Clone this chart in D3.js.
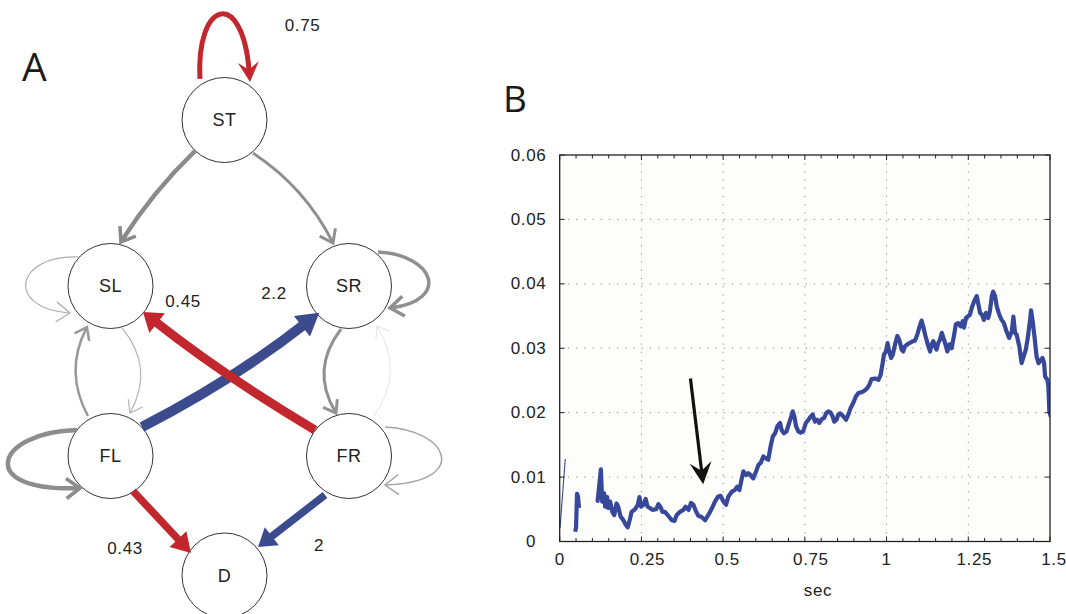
<!DOCTYPE html>
<html><head><meta charset="utf-8">
<script src="https://cdn.jsdelivr.net/npm/d3@7"></script>
<style>html,body{margin:0;padding:0;background:#fff;} svg{display:block}</style>
</head><body>
<svg id="chart" width="1066" height="614"></svg>
<script>
// ================= DATA =================
// Panel A: state-transition network
const nodeNames = ["ST", "SL", "SR", "FL", "FR", "D"];
const edgeSource = ["ST","ST","ST","SL","SR","FL","SL","SR","FR","FL","FR","FL","FR","FL","FR"];
const edgeTarget = ["ST","SL","SR","SL","SR","SL","FL","FR","SR","FL","FR","SR","SL","D","D"];
const edgeSign   = ["neg","none","none","none","none","none","none","none","none","none","none","pos","neg","neg","pos"];
const edgeLabel  = ["0.75",null,null,null,null,null,null,null,null,null,null,"2.2","0.45","0.43","2"];

// Panel B: time series (sec, value)
const xTicksMajor = [0, 0.25, 0.5, 0.75, 1, 1.25, 1.5];
const xTickLabels = ["0", "0.25", "0.5", "0.75", "1", "1.25", "1.5"];
const yTicks = [0, 0.01, 0.02, 0.03, 0.04, 0.05, 0.06];
const yTickLabels = ["0", "0.01", "0.02", "0.03", "0.04", "0.05", "0.06"];
const xLabel = "sec";
const thinSegment = [[0.001, 0.0021], [0.017, 0.0128]];
const shortSegment = [[0.047, 0.0015], [0.050, 0.0021], [0.053, 0.0074], [0.056, 0.0070], [0.059, 0.0052]];
const mainSeries = [
 [0.116,0.0063],[0.126,0.0112],[0.130,0.0062],[0.136,0.0075],[0.139,0.0054],[0.145,0.0069],[0.149,0.0052],[0.154,0.0062],[0.161,0.0046],[0.167,0.0041],
 [0.174,0.0059],[0.179,0.0054],[0.186,0.0039],[0.195,0.0033],[0.202,0.0026],[0.208,0.0022],[0.214,0.0033],[0.220,0.0046],[0.230,0.0050],[0.239,0.0057],
 [0.244,0.0069],[0.249,0.0054],[0.256,0.0057],[0.263,0.0066],[0.269,0.0054],[0.276,0.0052],[0.284,0.0049],[0.295,0.0050],[0.302,0.0058],[0.310,0.0052],
 [0.314,0.0046],[0.322,0.0046],[0.332,0.0040],[0.343,0.0033],[0.351,0.0032],[0.358,0.0041],[0.368,0.0046],[0.378,0.0049],[0.385,0.0054],[0.394,0.0049],
 [0.402,0.0060],[0.409,0.0057],[0.416,0.0048],[0.424,0.0040],[0.434,0.0038],[0.445,0.0033],[0.453,0.0040],[0.460,0.0046],[0.466,0.0052],
 [0.475,0.0062],[0.485,0.0070],[0.492,0.0071],[0.501,0.0062],[0.509,0.0057],[0.516,0.0070],[0.526,0.0077],[0.536,0.0080],[0.543,0.0085],[0.550,0.0080],
 [0.557,0.0098],[0.562,0.0109],[0.570,0.0103],[0.577,0.0106],[0.584,0.0103],[0.592,0.0098],[0.601,0.0109],[0.608,0.0119],[0.615,0.0122],[0.623,0.0132],
 [0.631,0.0129],[0.638,0.0127],[0.645,0.0147],[0.652,0.0163],[0.659,0.0168],[0.666,0.0179],[0.674,0.0184],[0.679,0.0173],[0.686,0.0168],[0.694,0.0171],
 [0.702,0.0184],[0.707,0.0192],[0.713,0.0202],[0.718,0.0194],[0.723,0.0179],[0.730,0.0171],[0.737,0.0169],[0.745,0.0171],[0.753,0.0184],[0.761,0.0189],
 [0.768,0.0194],[0.774,0.0197],[0.781,0.0186],[0.788,0.0189],[0.794,0.0184],[0.802,0.0190],[0.809,0.0192],[0.815,0.0199],[0.822,0.0202],[0.829,0.0200],
 [0.835,0.0194],[0.840,0.0186],[0.847,0.0189],[0.852,0.0197],[0.858,0.0199],[0.868,0.0194],[0.876,0.0189],[0.883,0.0197],[0.890,0.0207],[0.898,0.0215],
 [0.906,0.0225],[0.913,0.0230],[0.929,0.0233],[0.939,0.0237],[0.947,0.0243],[0.954,0.0252],[0.965,0.0253],[0.975,0.0251],[0.982,0.0259],[0.988,0.0277],
 [0.992,0.0290],[0.998,0.0295],[1.003,0.0308],[1.008,0.0295],[1.014,0.0285],[1.019,0.0290],[1.026,0.0306],[1.033,0.0319],[1.039,0.0313],[1.046,0.0298],
 [1.051,0.0295],[1.056,0.0303],[1.066,0.0307],[1.077,0.0310],[1.087,0.0312],[1.094,0.0321],[1.100,0.0332],[1.107,0.0343],[1.112,0.0334],[1.118,0.0321],
 [1.126,0.0306],[1.133,0.0295],[1.138,0.0306],[1.143,0.0311],[1.148,0.0303],[1.153,0.0298],[1.158,0.0308],[1.163,0.0313],[1.169,0.0324],[1.174,0.0316],
 [1.179,0.0308],[1.186,0.0295],[1.192,0.0306],[1.199,0.0300],[1.206,0.0319],[1.212,0.0337],[1.219,0.0339],[1.227,0.0334],[1.233,0.0342],[1.237,0.0332],
 [1.243,0.0347],[1.250,0.0350],[1.255,0.0352],[1.262,0.0365],[1.268,0.0373],[1.276,0.0381],[1.281,0.0368],[1.286,0.0355],[1.292,0.0352],[1.298,0.0344],
 [1.304,0.0355],[1.311,0.0347],[1.316,0.0357],[1.322,0.0381],[1.326,0.0388],[1.332,0.0381],[1.337,0.0365],[1.345,0.0352],[1.352,0.0344],[1.359,0.0339],
 [1.367,0.0326],[1.375,0.0316],[1.383,0.0326],[1.388,0.0349],[1.393,0.0324],[1.398,0.0321],[1.406,0.0303],[1.413,0.0277],[1.418,0.0285],[1.426,0.0298],
 [1.432,0.0316],[1.439,0.0344],[1.442,0.0359],[1.447,0.0342],[1.453,0.0316],[1.459,0.0287],[1.465,0.0277],[1.470,0.0280],[1.477,0.0285],[1.482,0.0277],
 [1.485,0.0256],[1.492,0.0251],[1.495,0.0241],[1.498,0.0202],[1.502,0.0195]
];
const annotationFrom = [0.400, 0.0253];
const annotationTo = [0.439, 0.0089];

// ================= STYLE / LAYOUT =================
const RED = "#c1272d", BLUE = "#3b4b8e";
const signColor = {pos: BLUE, neg: RED};
const nodeR = 42.5;
const nodeLayout = {ST:[224.5,120], SL:[110.5,286], SR:[349,286], FL:[110.5,456], FR:[349,456], D:[224.5,575.5]};
const edgeStyle = [
 {loop:1,a1:-120.9,d1:47.8,b1:-103.4,e1:123.3,b2:-82.4,e2:133.2,a2:-56.1,d2:45.8,w:5,head:"notch",hl:20,hw:10.5},
 {a1:133.6,d1:42.8,a2:-76.6,d2:45.2,bend:7,color:"#8a8a8a",w:4.5,head:"chev",hl:16},
 {a1:49.2,d1:43.6,a2:-110.4,d2:45.9,bend:-16,color:"#8f8f8f",w:3,head:"chev",hl:15},
 {loop:1,a1:-138.3,d1:43.6,b1:-162,e1:100.4,b2:168.2,e2:107.8,a2:146.3,d2:48.7,color:"#ababab",w:1.2,head:"chev",hl:17},
 {loop:1,a1:-49.5,d1:44.7,b1:-19.8,e1:91.4,b2:7.9,e2:102,a2:28.2,d2:46.5,color:"#8f8f8f",w:3.5,head:"chev",hl:17},
 {a1:-119.4,d1:45.9,a2:119.8,d2:47.3,bend:-23.5,color:"#989898",w:2.5,head:"chev",hl:14},
 {a1:74.7,d1:43.5,a2:-65.6,d2:47.2,bend:-29,color:"#b3b3b3",w:1.2,head:"chev",hl:14},
 {a1:100.5,d1:43.7,a2:-106.8,d2:44.9,bend:28.5,color:"#919191",w:3,head:"chev",hl:14},
 {a1:-58,d1:47.2,a2:55,d2:48.8,bend:29.5,color:"#e4e4e4",w:1,head:"chev",hl:14},
 {loop:1,a1:-142.2,d1:42.4,b1:-168.3,e1:118,b2:165.1,e2:140.2,a2:133.6,d2:44.2,color:"#8d8d8d",w:4.5,head:"chev",hl:17},
 {loop:1,a1:-38.9,d1:46.2,b1:-14.4,e1:104.3,b2:12.1,e2:123.8,a2:38.9,d2:46.2,color:"#a3a3a3",w:1.5,head:"chev",hl:17},
 {a1:-42.6,d1:42.8,a2:138.1,d2:40,bend:10,w:10,head:"tri",hl:22,hw:13},
 {a1:-142.6,d1:42.8,a2:38.7,d2:41.6,bend:-7,w:9,head:"tri",hl:18,hw:12.5},
 {a1:57.3,d1:41.6,a2:-146.1,d2:40.4,bend:0,w:7.5,head:"tri",hl:19,hw:11.5},
 {a1:121.6,d1:45.8,a2:-40.4,d2:44,bend:0,w:7.5,head:"tri",hl:17.5,hw:11.5}
];
const labelOffset = {0:["ST",78,-95], 11:["SR",-75,7.5], 12:["SL",72.5,15.7], 13:["D",-99.5,-27.2], 14:["D",94.5,-30.5]};
const drawOrder = [1,2,3,4,5,6,7,8,9,10,0,11,12,13,14];

const svg = d3.select("#chart");
const FONT = "'Liberation Sans', Arial, sans-serif";

// ---------- Panel A ----------
const gA = svg.append("g");
const pol = (name, ang, dist) => { const c = nodeLayout[name], a = ang*Math.PI/180; return [c[0]+dist*Math.cos(a), c[1]+dist*Math.sin(a)]; };

gA.selectAll("circle.node").data(nodeNames).join("circle")
  .attr("cx", d => nodeLayout[d][0]).attr("cy", d => nodeLayout[d][1]).attr("r", nodeR)
  .attr("fill", "#fff").attr("stroke", "#333").attr("stroke-width", 1);
gA.selectAll("text.node").data(nodeNames).join("text")
  .attr("x", d => nodeLayout[d][0]).attr("y", d => nodeLayout[d][1])
  .attr("text-anchor", "middle").attr("dominant-baseline", "central")
  .attr("font-family", FONT).attr("font-size", 18).attr("letter-spacing", 0.5).attr("fill", "#222").text(d => d);

function headPath(tip, dir, st) {
  const [ux, uy] = dir, px = -uy, py = ux;
  const bx = tip[0]-ux*st.hl, by = tip[1]-uy*st.hl;
  if (st.head === "chev") {
    const a = 36*Math.PI/180, c = Math.cos(a), s = Math.sin(a);
    const w1 = [tip[0]-st.hl*(ux*c - uy*s), tip[1]-st.hl*(uy*c + ux*s)];
    const w2 = [tip[0]-st.hl*(ux*c + uy*s), tip[1]-st.hl*(uy*c - ux*s)];
    return {d:`M${w1}L${tip}L${w2}`, filled:false};
  }
  if (st.head === "notch") {
    const n = [tip[0]-ux*st.hl*0.62, tip[1]-uy*st.hl*0.62];
    return {d:`M${tip}L${bx+px*st.hw},${by+py*st.hw}L${n}L${bx-px*st.hw},${by-py*st.hw}Z`, filled:true};
  }
  return {d:`M${tip}L${bx+px*st.hw},${by+py*st.hw}L${bx-px*st.hw},${by-py*st.hw}Z`, filled:true};
}

drawOrder.forEach(i => {
  const st = edgeStyle[i], src = edgeSource[i], tgt = edgeTarget[i];
  const color = st.color || signColor[edgeSign[i]];
  let s, t, dPath, dir;
  const chev = st.head === "chev";
  if (st.loop) {
    s = pol(src, st.a1, st.d1); t = pol(src, st.a2, st.d2);
    const c1 = pol(src, st.b1, st.e1), c2 = pol(src, st.b2, st.e2);
    let vx = t[0]-c2[0], vy = t[1]-c2[1]; const L = Math.hypot(vx, vy); dir = [vx/L, vy/L];
    const k = chev ? st.w*0.5 : st.hl*0.6;
    const end = [t[0]-dir[0]*k, t[1]-dir[1]*k];
    dPath = `M${s}C${c1} ${c2} ${end}`;
  } else {
    s = pol(src, st.a1, st.d1); t = pol(tgt, st.a2, st.d2);
    const vx = t[0]-s[0], vy = t[1]-s[1], L = Math.hypot(vx, vy);
    const ctrl = [(s[0]+t[0])/2 + st.bend*(-vy/L), (s[1]+t[1])/2 + st.bend*(vx/L)];
    let dx = t[0]-ctrl[0], dy = t[1]-ctrl[1]; const l2 = Math.hypot(dx, dy); dir = [dx/l2, dy/l2];
    const k = chev ? st.w*0.5 : st.hl*0.7;
    const end = [t[0]-dir[0]*k, t[1]-dir[1]*k];
    dPath = `M${s}Q${ctrl} ${end}`;
  }
  gA.append("path").attr("d", dPath).attr("fill", "none").attr("stroke", color)
    .attr("stroke-width", st.w).attr("stroke-linecap", "butt");
  const h = headPath(t, dir, st);
  const hp = gA.append("path").attr("d", h.d);
  if (h.filled) hp.attr("fill", color).attr("stroke", "none");
  else hp.attr("fill", "none").attr("stroke", color).attr("stroke-width", Math.max(Math.min(st.w, 3.6), 1.1))
          .attr("stroke-linejoin", "miter").attr("stroke-linecap", "butt");
});

Object.keys(labelOffset).forEach(k => {
  const [node, ox, oy] = labelOffset[k];
  gA.append("text").attr("x", nodeLayout[node][0]+ox).attr("y", nodeLayout[node][1]+oy)
    .attr("text-anchor", "middle").attr("dominant-baseline", "central")
    .attr("font-family", FONT).attr("font-size", 17).attr("letter-spacing", 0.6).attr("fill", "#222").text(edgeLabel[+k]);
});

svg.append("text").attr("x", 22).attr("y", 81).attr("font-family", "'Open Sans', sans-serif")
  .attr("font-size", 39).attr("fill", "#1a1a1a").text("A");
svg.append("text").attr("x", 503).attr("y", 112).attr("font-family", "'Open Sans', sans-serif")
  .attr("font-size", 37).attr("fill", "#1a1a1a").text("B");

// ---------- Panel B ----------
const x = d3.scaleLinear().domain([0, 1.5]).range([559.7, 1050]);
const y = d3.scaleLinear().domain([0, 0.06]).range([541.5, 155]);
const gB = svg.append("g");
const [x0, x1] = x.range(), [y0, y1] = y.range();

gB.append("rect").attr("x", x0).attr("y", y1).attr("width", x1-x0).attr("height", y0-y1).attr("fill", "#fdfdfb");

// grid
gB.selectAll("line.vg").data(xTicksMajor.slice(1, -1)).join("line")
  .attr("x1", d => x(d)).attr("x2", d => x(d)).attr("y1", y0).attr("y2", y1)
  .attr("stroke", "#8a8a8a").attr("stroke-width", 1).attr("stroke-dasharray", "1.2,7");
gB.selectAll("line.hg").data(yTicks.slice(1, -1)).join("line")
  .attr("x1", x0).attr("x2", x1).attr("y1", d => y(d)).attr("y2", d => y(d))
  .attr("stroke", "#8a8a8a").attr("stroke-width", 1).attr("stroke-dasharray", "1.2,7");

// series
const clipId = "plotclip";
svg.append("defs").append("clipPath").attr("id", clipId).append("rect")
  .attr("x", x0).attr("y", y1).attr("width", x1-x0).attr("height", y0-y1);
const line = d3.line().x(d => x(d[0])).y(d => y(d[1]));
const LINE_C = "#37479a";
const gS = gB.append("g").attr("clip-path", `url(#${clipId})`);
gS.append("path").attr("d", line(thinSegment)).attr("fill", "none").attr("stroke", LINE_C).attr("stroke-width", 1.1);
gS.append("path").attr("d", line(shortSegment)).attr("fill", "none").attr("stroke", LINE_C).attr("stroke-width", 4.2).attr("stroke-linejoin", "round");
gS.append("path").attr("d", line(mainSeries)).attr("fill", "none").attr("stroke", LINE_C).attr("stroke-width", 4.2).attr("stroke-linejoin", "round").attr("stroke-linecap", "round");

// ticks
const minorX = d3.range(0, 31).map(i => i*0.05).filter(v => Math.abs(v/0.25 - Math.round(v/0.25)) > 1e-6);
const tk = gB.append("g").attr("stroke", "#222").attr("stroke-width", 1);
xTicksMajor.forEach(v => {
  tk.append("line").attr("x1", x(v)).attr("x2", x(v)).attr("y1", y0).attr("y2", y0-5);
  tk.append("line").attr("x1", x(v)).attr("x2", x(v)).attr("y1", y1).attr("y2", y1+5);
});
minorX.forEach(v => {
  tk.append("line").attr("x1", x(v)).attr("x2", x(v)).attr("y1", y0).attr("y2", y0-3.5);
  tk.append("line").attr("x1", x(v)).attr("x2", x(v)).attr("y1", y1).attr("y2", y1+3.5);
});
yTicks.forEach(v => {
  tk.append("line").attr("x1", x0).attr("x2", x0+5).attr("y1", y(v)).attr("y2", y(v));
  tk.append("line").attr("x1", x1).attr("x2", x1-5).attr("y1", y(v)).attr("y2", y(v));
});

gB.append("rect").attr("x", x0).attr("y", y1).attr("width", x1-x0).attr("height", y0-y1)
  .attr("fill", "none").attr("stroke", "#222").attr("stroke-width", 1.3);

// tick labels
gB.selectAll("text.xl").data(xTicksMajor).join("text")
  .attr("x", (d, i) => x(d) + (xTickLabels[i].length-1)*2).attr("y", 565)
  .attr("text-anchor", "middle").attr("font-family", FONT).attr("font-size", 17).attr("letter-spacing", 0.6).attr("fill", "#222")
  .text((d, i) => xTickLabels[i]);
gB.selectAll("text.yl").data(yTicks).join("text")
  .attr("x", (d, i) => i === 0 ? 531 : 528.5).attr("y", d => y(d))
  .attr("text-anchor", "middle").attr("dominant-baseline", "central")
  .attr("font-family", FONT).attr("font-size", 17).attr("letter-spacing", 0.6).attr("fill", "#222")
  .text((d, i) => yTickLabels[i]);
gB.append("text").attr("x", 818).attr("y", 596).attr("text-anchor", "middle")
  .attr("font-family", FONT).attr("font-size", 17).attr("letter-spacing", 0.6).attr("fill", "#222").text(xLabel);

// annotation arrow
{
  const s = [x(annotationFrom[0]), y(annotationFrom[1])], t = [x(annotationTo[0]), y(annotationTo[1])];
  const L = Math.hypot(t[0]-s[0], t[1]-s[1]), u = [(t[0]-s[0])/L, (t[1]-s[1])/L];
  const hl = 22, hw = 11;
  gB.append("line").attr("x1", s[0]).attr("y1", s[1]).attr("x2", t[0]-u[0]*hl*0.6).attr("y2", t[1]-u[1]*hl*0.6)
    .attr("stroke", "#111").attr("stroke-width", 3.2);
  const h = headPath(t, u, {head:"notch", hl:hl, hw:hw});
  gB.append("path").attr("d", h.d).attr("fill", "#111");
}
</script>
</body></html>
